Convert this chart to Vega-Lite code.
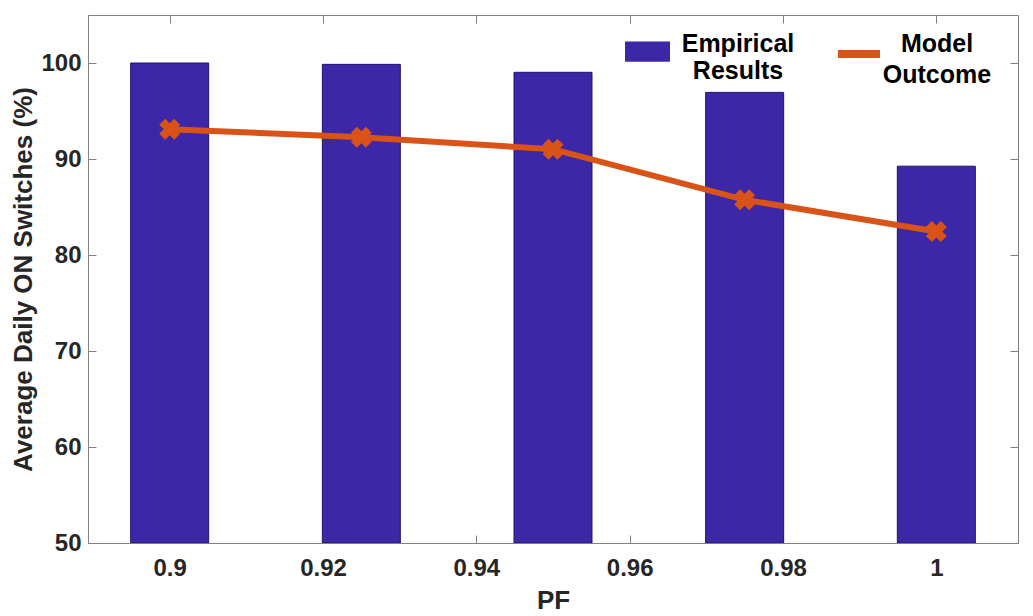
{
  "$schema": "https://vega.github.io/schema/vega-lite/v6.json",
  "width": 930,
  "height": 528,
  "autosize": {"type": "none"},
  "padding": {"left": 88, "top": 15, "right": 15, "bottom": 73},
  "background": "white",
  "config": {
    "font": "Liberation Sans",
    "view": {"stroke": "#808080", "strokeWidth": 1},
    "axis": {
      "labelFont": "Liberation Sans",
      "labelFontWeight": "bold",
      "labelFontSize": 24,
      "labelColor": "#262626",
      "titleFont": "Liberation Sans",
      "titleFontWeight": "bold",
      "titleFontSize": 26,
      "titleColor": "#262626",
      "domainColor": "#808080",
      "tickColor": "#808080",
      "grid": false
    },
    "legend": {
      "labelFont": "Liberation Sans",
      "labelFontWeight": "bold",
      "labelFontSize": 25,
      "labelColor": "#000000",
      "labelAlign": "center",
      "labelBaseline": "middle",
      "labelLimit": 300
    }
  },
  "datasets": {
    "emp": [
      {"pf": 0.9, "value": 100.0, "series": "Empirical Results"},
      {"pf": 0.925, "value": 99.86, "series": "Empirical Results"},
      {"pf": 0.95, "value": 99.03, "series": "Empirical Results"},
      {"pf": 0.975, "value": 96.94, "series": "Empirical Results"},
      {"pf": 1.0, "value": 89.25, "series": "Empirical Results"}
    ],
    "model": [
      {"pf": 0.9, "value": 93.1, "series": "Model Outcome"},
      {"pf": 0.925, "value": 92.26, "series": "Model Outcome"},
      {"pf": 0.95, "value": 91.02, "series": "Model Outcome"},
      {"pf": 0.975, "value": 85.75, "series": "Model Outcome"},
      {"pf": 1.0, "value": 82.45, "series": "Model Outcome"}
    ]
  },
  "layer": [
    {
      "layer": [
        {
          "data": {"name": "emp"},
          "mark": {"type": "bar", "size": 78, "stroke": "#1e146e", "strokeWidth": 1, "clip": true},
          "encoding": {
            "x": {
              "field": "pf", "type": "quantitative",
              "scale": {"domain": [0.89, 1.01], "nice": false, "zero": false},
              "axis": {
                "orient": "bottom", "title": "PF", "values": [0.9, 0.92, 0.94, 0.96, 0.98, 1.0],
                "labelExpr": "format(datum.value, '~g')",
                "tickSize": -8, "labelPadding": 21, "titlePadding": 7, "labelFlush": false
              }
            },
            "y": {
              "field": "value", "type": "quantitative",
              "scale": {"domain": [50, 105], "nice": false, "zero": false},
              "axis": {
                "orient": "left", "title": "Average Daily ON Switches (%)",
                "values": [50, 60, 70, 80, 90, 100],
                "tickSize": -8, "labelPadding": 15, "titlePadding": 4
              }
            },
            "y2": {"datum": 50},
            "fill": {
              "field": "series", "type": "nominal",
              "scale": {"domain": ["Empirical Results"], "range": ["#3c27a6"]},
              "legend": {
                "title": null,
                "orient": "none",
                "legendX": 537,
                "legendY": 14,
                "labelOffset": 68,
                "labelBaseline": "alphabetic",
                "symbolType": "M-1,-0.45H1V0.45H-1Z",
                "symbolSize": 2025,
                "symbolStrokeWidth": 0,
                "labelExpr": "split(datum.label, ' ')",
                "encode": {"labels": {"update": {"lineHeight": {"value": 31}}}}
              }
            }
          }
        },
        {
          "data": {"name": "model"},
          "mark": {"type": "line", "strokeWidth": 6},
          "encoding": {
            "x": {"field": "pf", "type": "quantitative"},
            "y": {"field": "value", "type": "quantitative"},
            "stroke": {
              "field": "series", "type": "nominal",
              "scale": {"domain": ["Model Outcome"], "range": ["#d95319"]},
              "legend": {
                "title": null,
                "orient": "none",
                "legendX": 746,
                "legendY": 14,
                "labelOffset": 53,
                "symbolType": "stroke",
                "symbolSize": 1764,
                "symbolStrokeWidth": 8,
                "labelExpr": "split(datum.label, ' ')",
                "encode": {"labels": {"update": {"lineHeight": {"value": 31}, "dy": {"value": -10}}}}
              }
            }
          }
        },
        {
          "data": {"name": "model"},
          "mark": {"type": "point", "shape": "cross", "angle": 45, "filled": true, "size": 450, "opacity": 1, "color": "#d95319"},
          "encoding": {
            "x": {"field": "pf", "type": "quantitative"},
            "y": {"field": "value", "type": "quantitative"}
          }
        }
      ]
    },
    {
      "data": {"name": "emp"},
      "mark": {"type": "rule", "opacity": 0},
      "encoding": {
        "x": {
          "field": "pf", "type": "quantitative",
          "axis": {"orient": "top", "title": null, "labels": false, "values": [0.9, 0.92, 0.94, 0.96, 0.98, 1.0], "tickSize": -8, "domain": false}
        },
        "y": {
          "field": "value", "type": "quantitative",
          "axis": {"orient": "right", "title": null, "labels": false, "values": [50, 60, 70, 80, 90, 100], "tickSize": -8, "domain": false}
        }
      }
    }
  ],
  "resolve": {"axis": {"x": "independent", "y": "independent"}}
}
